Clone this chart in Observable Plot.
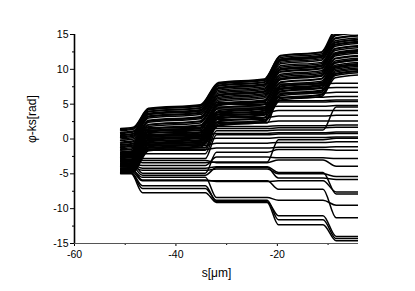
<!DOCTYPE html>
<html><head><meta charset="utf-8">
<script src="https://cdn.jsdelivr.net/npm/d3@7"></script>
<script src="https://cdn.jsdelivr.net/npm/@observablehq/plot@0.6"></script>
<style>body{margin:0;background:#fff}</style>
</head><body><div id="chart"></div>
<script>
// plateau extents along s [µm] (band lines have wider, softer steps)
const bandStart  = [-50.9, -45.4, -31.6, -19.4, -8.6];
const bandEnd    = [-48.4, -35.2, -22.6, -11.3, -4];
const bandDrift  = [0.2, 0.5, 0.5, 0.5, 0.4];
const lowerStart = [-50.9, -46.6, -32.0, -19.8, -8.4];
const lowerEnd   = [-48.8, -34.2, -22.0, -11.0, -4];

// lines that slip up at every step (dense black band): level at each plateau
const bandLines = [
  [-4.9, -1.7, 1.9, 5.6, 8.8], [-4.75, -1.3, 2.2, 5.9, 9.1], [-4.6, -1.5, 2.0, 5.8, 9.3],
  [-4.35, -1.1, 2.6, 6.2, 9.4], [-4.2, -0.9, 2.5, 6.4, 9.8], [-4.0, -0.8, 2.9, 6.5, 9.6],
  [-3.85, -0.6, 3.0, 6.8, 10.0], [-3.55, -0.4, 3.2, 6.9, 10.2], [-3.4, -0.2, 3.3, 7.1, 10.4],
  [-3.2, 0.0, 3.6, 7.2, 10.3], [-3.05, 0.2, 3.8, 7.5, 10.6], [-2.8, 0.35, 3.9, 7.6, 10.9],
  [-2.6, 0.5, 4.1, 7.8, 11.0], [-2.45, 0.8, 4.4, 8.1, 11.2], [-2.2, 1.0, 4.5, 8.2, 11.5],
  [-2.0, 1.1, 4.8, 8.5, 11.6], [-1.85, 1.4, 5.0, 8.7, 11.9], [-1.6, 1.5, 5.1, 8.9, 12.1],
  [-1.4, 1.8, 5.4, 9.1, 12.3], [-1.2, 2.0, 5.6, 9.3, 12.4], [-1.05, 2.1, 5.8, 9.6, 12.7],
  [-0.8, 2.4, 6.0, 9.7, 12.9], [-0.6, 2.6, 6.2, 9.9, 13.0], [-0.45, 2.7, 6.4, 10.1, 13.3],
  [-0.2, 3.0, 6.6, 10.3, 13.5], [0.0, 3.2, 6.8, 10.5, 13.6], [0.2, 3.3, 7.0, 10.8, 13.9],
  [0.35, 3.6, 7.2, 11.0, 14.1], [0.6, 3.7, 7.4, 11.2, 14.4], [0.8, 3.9, 7.6, 11.4, 14.5],
  [0.95, 4.0, 7.7, 11.5, 14.8], [1.2, 4.2, 7.9, 11.7, 15.0], [1.35, 4.3, 8.0, 11.9, 15.3],
  [1.5, 4.4, 8.1, 12.0, 15.6], [-3.7, -0.1, 3.5, 7.3, 10.9], [-2.3, 1.2, 4.9, 8.6, 12.2],
  [-0.9, 2.6, 6.3, 10.0, 13.8], [0.5, 3.5, 7.3, 11.3, 14.9]
];
// lines that stop slipping after the third step
const stopAfter3 = [
  [-4.5, -1.3, 2.3, 6.0, 6.1], [-3.9, -0.7, 2.8, 6.6, 6.7], [-3.1, 0.1, 3.5, 7.3, 7.4],
  [-2.3, 0.9, 4.3, 7.9, 8.0], [-1.5, 1.6, 5.2, 5.5, 5.6]
];
// lines that stop slipping after the second step
const stopAfter2 = [
  [-4.8, -1.6, 1.8, 1.9, 2.0], [-4.3, -1.2, 2.4, 2.6, 2.6], [-3.7, -0.5, 3.1, 3.3, 3.4],
  [-2.9, 0.3, 3.8, 4.1, 4.1], [-2.5, 0.6, 4.6, 4.7, 4.8], [-1.9, 1.2, 5.0, 5.3, 5.4]
];
// lines that slip only at the first step
const stopAfter1 = [
  [-4.6, -1.5, -1.3, -1.2, -1.1], [-4.0, -0.9, -0.6, -0.5, -0.4], [-3.3, -0.2, 0.1, 0.2, 0.3],
  [-2.7, 0.5, 0.8, 0.9, 1.0], [-2.1, 1.3, 1.5, 1.6, 1.7]
];
// lines that stay low or slip downward
const lowerLines = [
  [-1.9, -2.1, 1.2, 1.3, 4.6], [-2.5, -2.8, 0.6, 0.7, 0.8], [-3.0, -3.4, -3.3, -0.1, 0.1],
  [-3.5, -3.8, -2.6, -2.7, -2.8], [-4.0, -4.5, -4.3, -5.0, -5.4], [-4.4, -5.5, -8.4, -8.8, -9.5],
  [-4.6, -6.0, -6.0, -7.2, -11.3], [-4.8, -6.7, -9.0, -11.0, -14.0], [-4.9, -7.1, -8.8, -11.6, -14.3],
  [-5.0, -7.7, -9.1, -12.3, -14.6], [-3.8, -5.2, -4.1, -5.6, -5.8], [-3.2, -4.9, -1.9, -1.5, -1.6],
  [-2.2, -3.1, -3.4, -3.0, -3.9], [-4.2, -5.9, -6.1, -6.0, -7.6], [-3.6, -4.2, -4.0, -4.8, -7.9]
];

const xTicks = [-60, -40, -20];
const xMinor = [-50, -30, -10];
const yTicks = [-15, -10, -5, 0, 5, 10, 15];
const yMinor = [-12.5, -7.5, -2.5, 2.5, 7.5, 12.5];
const xTitle = "s[μm]";
const yTitle = "φ-ks[rad]";

const rows = [];
let id = 0;
function addLines(group, starts, ends, drift) {
  for (const lv of group) {
    lv.forEach((v, k) => {
      rows.push({id, s: starts[k], phi: v});
      rows.push({id, s: ends[k], phi: v + (drift ? drift[k] : 0)});
    });
    id++;
  }
}
addLines(bandLines, bandStart, bandEnd, bandDrift);
for (const g of [stopAfter3, stopAfter2, stopAfter1, lowerLines]) addLines(g, lowerStart, lowerEnd, null);

const fmt = d => String(d);
const chart = Plot.plot({
  width: 415, height: 291,
  marginTop: 34, marginBottom: 48, marginLeft: 74, marginRight: 57,
  x: {domain: [-60, -4], label: null},
  y: {domain: [-15, 15], label: null},
  style: {fontFamily: "Arial, 'Liberation Sans', sans-serif", fontSize: "10.5px", color: "black", background: "white"},
  marks: [
    Plot.line(rows, {x: "s", y: "phi", z: "id", curve: "monotone-x", stroke: "black", strokeWidth: 1.5, clip: true}),
    Plot.axisY(yMinor, {tickSize: 2, text: null, label: null}),
    Plot.axisY(yTicks, {tickSize: 4, tickPadding: 2, tickFormat: fmt, label: null}),
    Plot.axisX(xMinor, {tickSize: 2, text: null, label: null}),
    Plot.axisX(xTicks, {tickSize: 3, tickPadding: 4, tickFormat: fmt, label: null}),
    Plot.ruleX([-60], {stroke: "black", strokeWidth: 1.6}),
    Plot.ruleY([-15], {stroke: "#555", strokeWidth: 1}),
    Plot.text([yTitle], {frameAnchor: "left", dx: -42, dy: 4, rotate: -90, fontSize: 12}),
    Plot.text([xTitle], {frameAnchor: "bottom", dy: 33, fontSize: 12})
  ]
});
document.getElementById("chart").append(chart);
</script></body></html>
